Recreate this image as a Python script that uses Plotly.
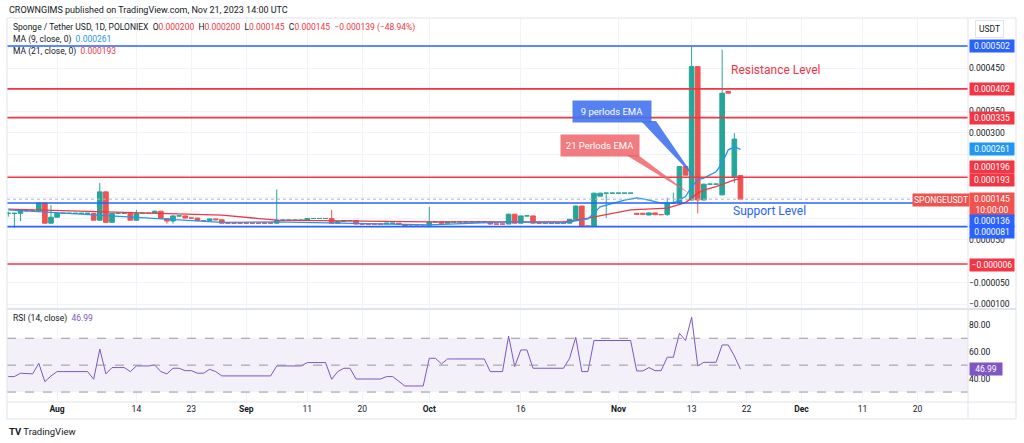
import numpy as np
import pandas as pd
import plotly.graph_objects as go
from plotly.subplots import make_subplots

# daily candles, prices in millionths of USDT
opens = [112, 112, 112, 120, 118, 118, 136, 89, 103, 112,
         112, 112, 112, 112, 112, 96, 162, 91, 112, 112,
         112, 96, 112, 112, 112, 117, 100, 94, 106, 106,
         101, 101, 95, 95, 99, 97, 89, 89, 89, 89,
         89, 89, 89, 89, 89, 96, 96, 96, 96, 96,
         100, 100, 100, 100, 89, 93, 95, 95, 87, 87,
         87, 87, 87, 89, 89, 86, 82, 82, 82, 84,
         92, 92, 89, 92, 92, 92, 92, 92, 92, 92,
         87, 87, 87, 110, 89, 106, 106, 89, 89, 89,
         89, 89, 89, 98, 129, 82, 82, 152, 159, 159,
         159, 159, 159, 112, 112, 108, 113, 109, 109, 136,
         136, 221, 143, 454, 143, 180, 180, 155, 396, 197, 200]
highs = [116, 113, 122, 121, 119, 138, 136, 131, 113, 112,
         112, 112, 112, 112, 112, 183, 162, 113, 112, 112,
         112, 120, 112, 112, 118, 117, 101, 107, 106, 106,
         101, 101, 95, 100, 99, 97, 89, 89, 89, 89,
         89, 89, 89, 89, 168, 96, 96, 96, 96, 101,
         100, 100, 100, 120, 93, 96, 95, 95, 87, 87,
         87, 87, 89, 89, 89, 86, 82, 82, 82, 127,
         92, 92, 92, 92, 92, 92, 92, 92, 92, 92,
         87, 87, 111, 110, 106, 106, 106, 89, 89, 89,
         89, 89, 99, 130, 129, 82, 160, 160, 159, 159,
         159, 159, 159, 112, 112, 114, 113, 109, 148, 160,
         222, 222, 500, 454, 181, 180, 180, 494, 397, 299, 200]
lows = [104, 78, 94, 116, 117, 116, 88, 88, 102, 112,
        112, 112, 112, 112, 95, 95, 90, 90, 112, 112,
        96, 95, 112, 112, 111, 99, 88, 88, 106, 100,
        101, 94, 95, 95, 96, 88, 89, 89, 89, 89,
        89, 89, 89, 89, 88, 96, 96, 96, 96, 96,
        100, 100, 100, 88, 89, 93, 95, 86, 87, 87,
        87, 87, 87, 89, 85, 81, 82, 82, 82, 81,
        92, 88, 89, 92, 92, 92, 92, 92, 92, 86,
        87, 87, 87, 88, 89, 106, 88, 89, 89, 89,
        89, 89, 89, 98, 80, 82, 81, 152, 101, 159,
        159, 159, 159, 108, 110, 108, 108, 109, 106, 136,
        135, 200, 142, 112, 142, 180, 180, 154, 392, 183, 145]
closes = [112, 112, 120, 118, 118, 136, 89, 103, 112, 112,
          112, 112, 112, 112, 96, 162, 91, 112, 112, 112,
          96, 112, 112, 112, 117, 100, 94, 106, 106, 101,
          101, 95, 95, 99, 97, 89, 89, 89, 89, 89,
          89, 89, 89, 89, 96, 96, 96, 96, 96, 100,
          100, 100, 100, 89, 93, 95, 95, 87, 87, 87,
          87, 87, 89, 89, 86, 82, 82, 82, 82, 92,
          92, 89, 92, 92, 92, 92, 92, 92, 92, 87,
          87, 87, 110, 89, 106, 106, 89, 89, 89, 89,
          89, 89, 98, 129, 82, 82, 159, 159, 159, 159,
          159, 159, 159, 110, 110, 113, 109, 109, 136, 136,
          221, 201, 454, 143, 180, 180, 180, 392, 392, 285, 145]

rsi_values = [41.5, 41.5, 44, 43.5, 43.5, 51.4, 37.7, 42, 45.2, 45.2,
              45.2, 45.2, 45.2, 45.2, 39.5, 62, 43.5, 48.2, 48.2, 48.2,
              45.2, 49.4, 49.4, 49.4, 50.1, 45.2, 43.5, 47.7, 47.7, 45.9,
              45.9, 44, 44, 46.9, 45.2, 42, 42, 42, 42, 42,
              42, 42, 42, 42, 49.4, 49.4, 49.4, 49.4, 49.4, 51.9,
              51.9, 51.9, 51.9, 39.5, 45.2, 47.7, 47.7, 39.7, 39.7, 39.7,
              39.7, 39.7, 41.5, 41.5, 38, 34.5, 34.5, 34.5, 34.5, 55.1,
              55.1, 50.9, 54.6, 54.6, 54.6, 54.6, 54.6, 54.6, 54.6, 45.2,
              45.2, 45.2, 71.7, 48.9, 61.3, 61.3, 47.7, 47.7, 47.7, 47.7,
              47.7, 47.7, 55.1, 70.7, 45.2, 45.2, 68.3, 68.3, 68.3, 68.3,
              68.3, 68.3, 68.3, 45.7, 45.7, 48.2, 45.9, 45.9, 55.9, 55.9,
              73.7, 68.3, 85.6, 49.4, 52.1, 52.1, 52.1, 65, 65, 56.8, 46.99]

# moving averages read at their turning points
ma9_dates = ["2023-07-24", "2023-08-28", "2023-09-06", "2023-09-19", "2023-10-01",
             "2023-10-14", "2023-10-23", "2023-10-27", "2023-10-29", "2023-11-02",
             "2023-11-04", "2023-11-06", "2023-11-08", "2023-11-10", "2023-11-12",
             "2023-11-13", "2023-11-14", "2023-11-15", "2023-11-17", "2023-11-18",
             "2023-11-19", "2023-11-20", "2023-11-21"]
ma9_values = [120, 91, 92, 89, 85, 92, 90, 99, 127, 143, 148, 143, 136, 136, 151,
              174, 190, 194, 209, 229, 260, 267, 261]
ma21_dates = ["2023-07-24", "2023-08-13", "2023-08-28", "2023-09-06", "2023-10-01",
              "2023-10-23", "2023-10-27", "2023-11-03", "2023-11-09", "2023-11-12",
              "2023-11-14", "2023-11-15", "2023-11-17", "2023-11-20", "2023-11-21"]
ma21_values = [122, 113, 108, 96, 92, 92, 101, 120, 124, 137, 159, 166, 174, 190, 193]

blue_levels = [502, 136, 81]
red_levels = [402, 335, 196, -6]
last_price = 145

x_tick_dates = ["2023-08-01", "2023-08-14", "2023-08-23", "2023-09-01", "2023-09-11",
                "2023-09-20", "2023-10-01", "2023-10-16", "2023-11-01", "2023-11-13",
                "2023-11-22", "2023-12-01", "2023-12-11", "2023-12-20"]
x_tick_text = ["<b>Aug</b>", "14", "23", "<b>Sep</b>", "11", "20", "<b>Oct</b>", "16",
               "<b>Nov</b>", "13", "22", "<b>Dec</b>", "11", "20"]
price_ticks = [-100, -50, 0, 50, 100, 150, 200, 250, 300, 350, 400, 450, 500]
hidden_ticks = [0, 100, 150, 200, 250, 400, 500]   # covered by the price labels
rsi_ticks = [40, 60, 80]

U = 1e-6
dates = pd.date_range("2023-07-24", periods=len(closes), freq="D")
GREEN = "#26a69a"
RED = "#ef5350"
LRED = "#f23645"
BLUE = "#2962ff"
MABLUE = "#2196f3"
PURPLE = "#7e57c2"
GRID = "#f0f3fa"
FRAME = "#e0e3eb"
TXT = "#131722"
FONT = "Roboto"


def px(x):
    return (x - 7) / 961


def py(y):
    return (402 - y) / 384


def fmt(v):
    s = "%.6f" % abs(v * U)
    return ("\u2212" + s) if v < 0 else s


fig = make_subplots(rows=2, cols=1, shared_xaxes=True, vertical_spacing=0.01)

fig.add_trace(go.Candlestick(
    x=dates, open=np.array(opens) * U, high=np.array(highs) * U,
    low=np.array(lows) * U, close=np.array(closes) * U,
    increasing=dict(line=dict(color=GREEN, width=1), fillcolor=GREEN),
    decreasing=dict(line=dict(color=RED, width=1), fillcolor=RED),
    whiskerwidth=0, hoverinfo="skip"), row=1, col=1)

fig.add_trace(go.Scatter(x=ma21_dates, y=np.array(ma21_values) * U, mode="lines",
                         line=dict(color=LRED, width=1.3)), row=1, col=1)
fig.add_trace(go.Scatter(x=ma9_dates, y=np.array(ma9_values) * U, mode="lines",
                         line=dict(color=MABLUE, width=1.3)), row=1, col=1)

fig.add_trace(go.Scatter(x=dates, y=rsi_values, mode="lines",
                         line=dict(color=PURPLE, width=1)), row=2, col=1)

shapes = []
# user drawn levels
for v in blue_levels:
    shapes.append(dict(type="line", xref="paper", x0=0, x1=1, yref="y", y0=v * U, y1=v * U,
                       line=dict(color=BLUE, width=1.6)))
for v in red_levels:
    shapes.append(dict(type="line", xref="paper", x0=0, x1=1, yref="y", y0=v * U, y1=v * U,
                       line=dict(color=LRED, width=1.6)))
shapes.append(dict(type="line", xref="paper", x0=0, x1=1, yref="y", y0=last_price * U,
                   y1=last_price * U, line=dict(color="#b2b5be", width=1, dash="dot")))

# RSI band
shapes.append(dict(type="rect", xref="paper", x0=0, x1=1, yref="y2", y0=30, y1=70,
                   fillcolor="rgba(126,87,194,0.09)", line=dict(width=0), layer="below"))
for v in [30, 50, 70]:
    shapes.append(dict(type="line", xref="paper", x0=0, x1=1, yref="y2", y0=v, y1=v,
                       line=dict(color="#9598a1", width=1, dash="dash")))

# frame
shapes.append(dict(type="rect", xref="paper", yref="paper", x0=0, x1=px(1016),
                   y0=py(419), y1=1, line=dict(color=FRAME, width=1)))
shapes.append(dict(type="line", xref="paper", yref="paper", x0=1, x1=1, y0=py(419), y1=1,
                   line=dict(color=FRAME, width=1)))
shapes.append(dict(type="line", xref="paper", yref="paper", x0=0, x1=px(1016),
                   y0=py(309), y1=py(309), line=dict(color=FRAME, width=2)))
shapes.append(dict(type="line", xref="paper", yref="paper", x0=0, x1=px(1016),
                   y0=0, y1=0, line=dict(color=FRAME, width=1)))

# callout pointers
shapes.append(dict(type="path", xref="paper", yref="paper",
                   path="M %f,%f L %f,%f L %f,%f Z" % (px(641), py(121), px(656), py(121),
                                                       px(695), py(178)),
                   fillcolor="rgba(66,115,240,0.9)", line=dict(width=0)))
shapes.append(dict(type="path", xref="paper", yref="paper",
                   path="M %f,%f L %f,%f L %f,%f Z" % (px(626), py(155), px(638), py(155),
                                                       px(690), py(194)),
                   fillcolor="rgba(239,100,104,0.85)", line=dict(width=0)))

ann = []


def text(x, y, t, size=9, color=TXT, xanchor="left", **kw):
    ann.append(dict(xref="paper", yref="paper", x=px(x), y=py(y), text=t, showarrow=False,
                    xanchor=xanchor, yanchor="middle", font=dict(family=FONT, size=size,
                                                                 color=color), **kw))


def red(t):
    return '<span style="color:%s">%s</span>' % (LRED, t)


text(7, 10, "CROWNGIMS published on TradingView.com, Nov 21, 2023 14:00 UTC", size=9)
text(11, 28, "Sponge / Tether USD, 1D, POLONIEX\u00a0\u00a0O" + red("0.000200") + "\u00a0\u00a0H"
     + red("0.000200") + "\u00a0\u00a0L" + red("0.000145") + "\u00a0\u00a0C" + red("0.000145")
     + "\u00a0\u00a0" + red("\u22120.000139 (\u221248.94%)"), size=8.5)
text(11, 39, 'MA (9, close, 0)\u00a0\u00a0<span style="color:%s">0.000261</span>' % MABLUE, size=8.5)
text(11, 51, "MA (21, close, 0)\u00a0\u00a0" + red("0.000193"), size=8.5)
text(11, 318, 'RSI (14, close)\u00a0\u00a0<span style="color:%s">46.99</span>' % PURPLE, size=8.5)

text(776, 70, "Resistance Level", size=12, color=LRED, xanchor="center")
text(769, 211, "Support Level", size=12, color=BLUE, xanchor="center")
text(612, 111, "9 perlods EMA", size=9.5, color="white", xanchor="center",
     bgcolor="rgba(66,115,240,0.9)", borderpad=5, width=68)
text(600, 145, "21 Perlods EMA", size=9.5, color="white", xanchor="center",
     bgcolor="rgba(239,100,104,0.85)", borderpad=5, width=68)

text(990, 29, "USDT", size=8.5, xanchor="center", bgcolor="white", bordercolor=FRAME,
     borderpad=3)
text(941, 200, "SPONGEUSDT", size=8.5, color="white", xanchor="center", bgcolor=RED,
     borderpad=1)
text(7, 431, "<b>TV</b> TradingView", size=9.5, color=TXT)

# price axis labels
axis_labels = [(502, BLUE, 0, None), (402, LRED, 0, None), (335, LRED, 0, None),
               (261, MABLUE, 0, None), (196, LRED, -10, None), (193, LRED, 1, None),
               (145, RED, 5, "10:00:00"), (136, BLUE, 18, None), (81, BLUE, 5, None),
               (-6, LRED, 1, None)]
for v, c, shift, extra in axis_labels:
    t = fmt(v) if extra is None else fmt(v) + "<br>" + extra
    ann.append(dict(xref="paper", yref="y", x=1, y=v * U, yshift=-shift, xanchor="left",
                    xshift=1, yanchor="middle", text=t, showarrow=False, bgcolor=c,
                    borderpad=1, width=42, font=dict(family=FONT, size=8.5, color="white")))
ann.append(dict(xref="paper", yref="y2", x=1, y=46.99, xanchor="left", xshift=1,
                yanchor="middle", text="46.99", showarrow=False, bgcolor=PURPLE,
                borderpad=1, width=30, font=dict(family=FONT, size=8.5, color="white")))

fig.update_layout(
    width=1024, height=443, margin=dict(l=7, r=56, t=18, b=41),
    paper_bgcolor="white", plot_bgcolor="white", showlegend=False,
    font=dict(family=FONT, size=8.5, color=TXT), boxgap=0.2, boxgroupgap=0.05,
    shapes=shapes, annotations=ann,
)
xrange = ["2023-07-23 19:00", "2023-12-28 07:00"]
fig.update_xaxes(range=xrange, tickvals=x_tick_dates, ticktext=x_tick_text, showgrid=True,
                 gridcolor=GRID, gridwidth=1, zeroline=False, showline=False, ticks="",
                 rangeslider_visible=False, tickfont=dict(size=8.5, color=TXT))
fig.update_xaxes(showticklabels=False, row=1, col=1)
fig.update_yaxes(side="right", domain=[py(308), 1], range=[-108.7 * U, 567.3 * U],
                 tickvals=[v * U for v in price_ticks],
                 ticktext=["" if v in hidden_ticks else fmt(v) for v in price_ticks],
                 showgrid=True, gridcolor=GRID, zeroline=False, ticks="",
                 tickfont=dict(size=8.5, color=TXT), row=1, col=1)
fig.update_yaxes(side="right", domain=[0, py(310)], range=[22.6, 91.0],
                 tickvals=rsi_ticks, ticktext=["%.2f" % v for v in rsi_ticks],
                 showgrid=False, zeroline=False, ticks="",
                 tickfont=dict(size=8.5, color=TXT), row=2, col=1)

fig.write_html("out.html", config={"displayModeBar": False},
               post_script="document.body.style.margin = '0';")
